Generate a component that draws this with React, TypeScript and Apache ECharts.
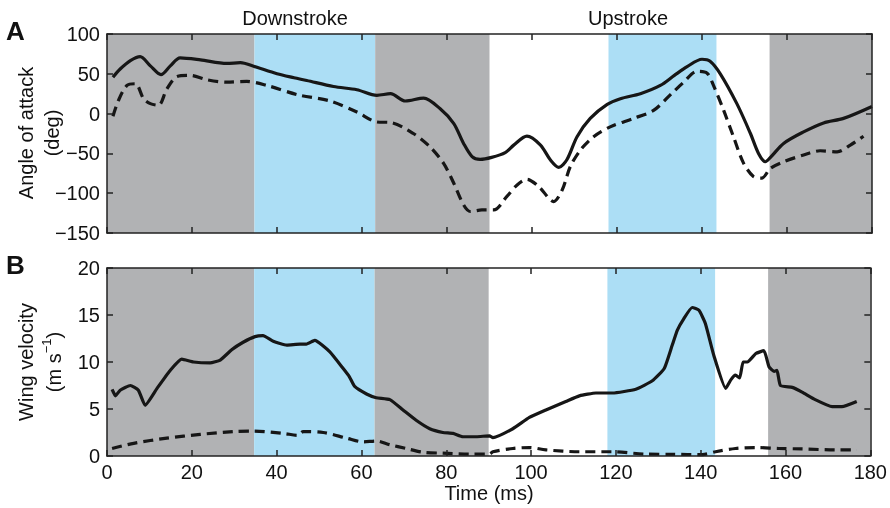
import React, { useEffect, useRef } from "react";
import * as echarts from "echarts";

// Time (ms) / angle of attack (deg)
const aoaSolid: [number, number][] = [
  [1.4, 45.7], [3.1, 56], [5.5, 66.6], [7.8, 71.6], [10.2, 60], [12.7, 49], [14.9, 60], [17.2, 70],
  [22, 67.5], [28.2, 63], [31.4, 64], [34.5, 59.5], [40, 50], [44, 45], [47, 41.6], [53.3, 34],
  [58.8, 30], [63.5, 23], [66.7, 25], [70.2, 15.8], [74.5, 19.5], [78.4, 6], [81.6, -12.5],
  [83.9, -37.5], [85.9, -54], [87.8, -57.5], [90.5, -55], [93.7, -49], [95.7, -39.6], [98.8, -28.4],
  [102, -39.6], [104.3, -58], [106.3, -67.5], [108.2, -58], [110.6, -29], [113.7, -6], [117.7, 11.6],
  [120.8, 18.7], [125.5, 25], [130.2, 35.4], [133.5, 48], [136.5, 59], [140, 68.3], [141.9, 65.8],
  [144.3, 50], [148.2, 12.5], [151.4, -25], [153.3, -50], [154.9, -60.5], [156.1, -55], [159.2, -37.5],
  [163.9, -23], [168.6, -11.7], [173.3, -6], [180, 9],
];
const aoaDashed: [number, number][] = [
  [1.4, -3.4], [2.7, 16.6], [4.7, 35.4], [6.7, 37.5], [8.6, 18.7], [10.2, 12.5], [12.1, 10.4],
  [14.1, 31], [16.5, 46.6], [19.6, 48], [23.5, 42.5], [28.2, 39.5], [32.9, 40.4], [37.6, 35.4],
  [45, 23.5], [52.5, 15.8], [58.8, 2], [63.5, -10.5], [66.7, -11.2], [72.1, -25], [76, -41.7],
  [79.2, -62.5], [81.6, -87.5], [83.9, -114.6], [85.5, -123], [88.2, -121], [91, -121], [94.1, -104],
  [96.5, -89.6], [98.8, -82.5], [101.6, -91.7], [105.1, -110.5], [107.1, -96], [109, -66.7],
  [111.4, -45.8], [114.5, -29], [118.4, -16.7], [123.9, -6], [128.6, 4], [132.8, 25], [135.7, 39.5],
  [138.8, 53], [141.2, 50.8], [142.7, 35.4], [145.1, 4], [147.4, -29], [149.8, -62.5], [152.1, -79],
  [154.1, -81], [156.1, -68.7], [159.2, -60.5], [163.9, -52], [167.8, -46.7], [171.8, -48],
  [174.9, -39.6], [178, -28.4],
];
// Time (ms) / wing velocity (m/s)
const velSolid: [number, number][] = [
  [1.2, 7.1], [2, 6.4], [3.1, 7], [5.5, 7.5], [7.4, 7], [9, 5.4], [11.8, 7.2], [14.9, 9.1],
  [17.6, 10.3], [20.4, 10], [24.3, 9.9], [26.7, 10.2], [29.4, 11.3], [32.1, 12.1], [34.9, 12.7],
  [36.8, 12.8], [39.2, 12.2], [42.4, 11.8], [45.5, 11.9], [47, 11.9], [49, 12.3], [52.5, 11.1],
  [55.7, 9.3], [57.2, 8.4], [58.4, 7.4], [61.2, 6.6], [63.5, 6.2], [66.7, 6], [69.8, 4.9],
  [72.9, 3.8], [76.1, 2.9], [79.2, 2.5], [81.6, 2.4], [83.9, 2.05], [87.1, 2.05], [90.2, 2.15],
  [91, 1.95], [95.7, 2.9], [99.6, 4.1], [103.5, 4.9], [108.2, 5.8], [111.4, 6.4], [115.3, 6.7],
  [119.2, 6.7], [124.7, 7.1], [128.6, 8], [131.4, 9.3], [133.3, 11.8], [134.5, 13.4], [136, 14.6],
  [138, 15.8], [139.6, 15.5], [141.1, 14.1], [143.1, 10.7], [145.9, 7.2], [147.1, 8.1], [148.2, 8.6],
  [149.2, 8.3], [150, 10], [151, 10], [153, 10.9], [154.9, 11.2], [156.1, 9.5], [157.3, 9],
  [158, 9.1], [158.8, 7.5], [161.6, 7.3], [163.9, 6.8], [167, 6], [171, 5.25], [173.3, 5.25],
  [176.8, 5.8],
];
const velDashed: [number, number][] = [
  [1.2, 0.8], [6.3, 1.35], [14.1, 1.9], [22, 2.3], [29.8, 2.6], [34.5, 2.65], [41.6, 2.4], [45, 2.2],
  [46.3, 2.6], [51, 2.5], [56.5, 1.9], [60.4, 1.5], [63.5, 1.6], [66.7, 1.2], [70.5, 0.8],
  [74.5, 0.4], [79.2, 0.3], [86.3, 0.2], [90.2, 0.2], [91, 0.45], [95.7, 0.8], [99.6, 0.9],
  [103.5, 0.65], [111.4, 0.45], [119.2, 0.45], [127, 0.2], [133.3, 0.18], [140.4, 0.15],
  [143.5, 0.45], [148.2, 0.8], [153, 0.9], [158.4, 0.8], [163.9, 0.75], [171.8, 0.65], [176.8, 0.65],
];
// Shaded phases (ms)
const phaseStart = [0, 34.7, 63.1, 118, 155.9];
const phaseEnd = [34.7, 63.1, 90, 143.4, 180];
const phaseKind = ["grey", "blue", "grey", "blue", "grey"];
const strokeLabels = ["Downstroke", "Upstroke"];

const FONT = "'Liberation Sans', Arial, Helvetica, sans-serif";
const AX = "#222";
const LINE = "#161616";
const FS = 20;
const kindColor: Record<string, string> = { grey: "#b1b2b4", blue: "#acdef5" };

export default function App() {
  const ref = useRef<HTMLDivElement>(null);
  useEffect(() => {
    if (!ref.current) return;
    const chart = echarts.init(ref.current, undefined, { renderer: "svg" });
    const grids = [
      { left: 107, right: 18, top: 34, height: 199 },
      { left: 107, right: 18, top: 268, height: 188 },
    ];
    const axisCommon = (show: boolean) => ({
      axisLine: { show: true, onZero: false, lineStyle: { color: AX, width: 1.5 } },
      axisTick: { show: true, inside: true, length: 6, lineStyle: { color: AX, width: 1.5 } },
      axisLabel: { show, color: "#111", fontSize: FS, fontFamily: FONT, margin: 6 },
      splitLine: { show: false },
      z: 10,
    });
    const xAxis: any[] = [];
    const yAxis: any[] = [];
    [0, 1].forEach((gi) => {
      ["bottom", "top"].forEach((pos) => {
        xAxis.push({
          type: "value", gridIndex: gi, position: pos, min: 0, max: 180, interval: 20,
          ...axisCommon(gi === 1 && pos === "bottom"),
        });
      });
      ["left", "right"].forEach((pos) => {
        yAxis.push({
          type: "value", gridIndex: gi, position: pos,
          min: gi === 0 ? -150 : 0, max: gi === 0 ? 100 : 20, interval: gi === 0 ? 50 : 5,
          ...axisCommon(pos === "left"),
          axisLabel: {
            show: pos === "left", color: "#111", fontSize: FS, fontFamily: FONT, margin: 7,
            formatter: (v: number) => (v < 0 ? "\u2212" + Math.abs(v) : String(v)),
          },
        });
      });
    });
    const areas = phaseStart.map((s, i) => [
      { xAxis: s, itemStyle: { color: kindColor[phaseKind[i]], opacity: 1 } },
      { xAxis: phaseEnd[i] },
    ]);
    const mk = (data: [number, number][], ax: number, dashed: boolean, smooth: number, withArea: boolean) => ({
      type: "line", data, xAxisIndex: ax, yAxisIndex: ax, showSymbol: false, symbol: "none", smooth,
      lineStyle: { color: LINE, width: 3.2, type: dashed ? [10, 6] : "solid", cap: "butt", join: "round" },
      z: 5,
      ...(withArea ? { markArea: { silent: true, data: areas, z: 1 } } : {}),
    });
    const txt = (text: string, x: number, y: number, rot = 0, font = `${FS}px ${FONT}`, align = "center") => ({
      type: "text", x, y, rotation: rot,
      style: { text, font, fill: "#111", textAlign: align, textVerticalAlign: "middle" },
    });
    chart.setOption({
      animation: false,
      grid: grids,
      xAxis,
      yAxis,
      series: [
        mk(aoaSolid, 0, false, 0.3, true),
        mk(aoaDashed, 0, true, 0.3, false),
        mk(velSolid, 2, false, 0.15, true),
        mk(velDashed, 2, true, 0.3, false),
      ],
      graphic: [
        txt(strokeLabels[0], 295, 18),
        txt(strokeLabels[1], 628, 18),
        txt("A", 6, 31, 0, `bold 26px ${FONT}`, "left"),
        txt("B", 6, 265, 0, `bold 26px ${FONT}`, "left"),
        txt("Angle of attack", 26, 133, Math.PI / 2),
        txt("(deg)", 52, 133, Math.PI / 2),
        txt("Wing velocity", 26, 362, Math.PI / 2),
        {
          type: "text", x: 52, y: 362, rotation: Math.PI / 2,
          style: {
            text: "{a|(m s}{s|\u22121}{a|)}", fill: "#111", textAlign: "center", textVerticalAlign: "middle",
            rich: {
              a: { fontSize: FS, fontFamily: FONT, fill: "#111", verticalAlign: "bottom", lineHeight: 24 },
              s: { fontSize: 13, fontFamily: FONT, fill: "#111", verticalAlign: "top", lineHeight: 24 },
            },
          },
        },
        txt("Time (ms)", 489, 493),
      ],
    });
    return () => chart.dispose();
  }, []);
  return <div ref={ref} style={{ position: "fixed", left: 0, top: 0, width: 890, height: 508 }} />;
}
